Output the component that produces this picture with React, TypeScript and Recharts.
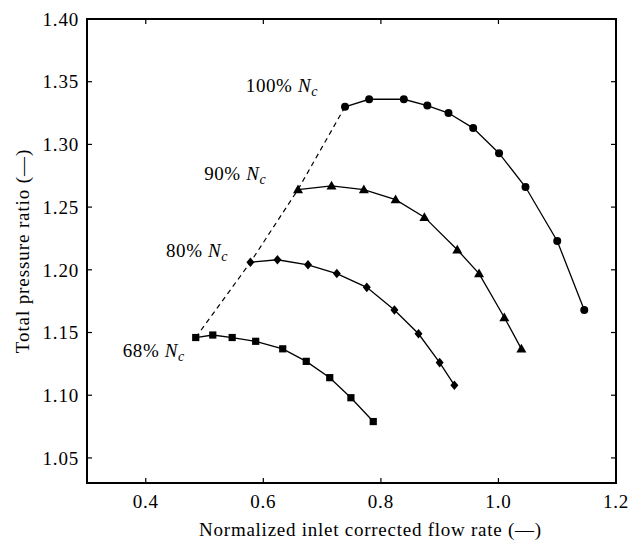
import {
  Label,
  ReferenceArea,
  ReferenceLine,
  Scatter,
  ScatterChart,
  XAxis,
  YAxis,
} from 'recharts'

// speed lines
const flow100 = [0.739, 0.78, 0.839, 0.879, 0.915, 0.957, 1.001, 1.046, 1.1, 1.146]
const pr100 = [1.33, 1.336, 1.336, 1.331, 1.325, 1.313, 1.293, 1.266, 1.223, 1.168]

const flow90 = [0.659, 0.716, 0.771, 0.825, 0.874, 0.93, 0.967, 1.01, 1.039]
const pr90 = [1.264, 1.267, 1.264, 1.256, 1.242, 1.216, 1.197, 1.162, 1.137]

const flow80 = [0.578, 0.624, 0.676, 0.725, 0.776, 0.823, 0.864, 0.9, 0.925]
const pr80 = [1.206, 1.208, 1.204, 1.197, 1.186, 1.168, 1.149, 1.126, 1.108]

const flow68 = [0.485, 0.514, 0.547, 0.587, 0.633, 0.673, 0.713, 0.749, 0.787]
const pr68 = [1.146, 1.148, 1.146, 1.143, 1.137, 1.127, 1.114, 1.098, 1.079]

const xTicks = [0.4, 0.6, 0.8, 1.0, 1.2]
const yTicks = [1.05, 1.1, 1.15, 1.2, 1.25, 1.3, 1.35, 1.4]
const xDomain = [0.3, 1.2]
const yDomain = [1.03, 1.4]

const speedLabels = ['100%', '90%', '80%', '68%']
// right edge / baseline of each speed label, in data units
const labelX = [0.693, 0.605, 0.54, 0.4665]
const labelY = [1.3416, 1.2716, 1.2102, 1.1305]

const toPoints = (xs: number[], ys: number[]) => xs.map((x, i) => ({ x, y: ys[i] }))

const line100 = toPoints(flow100, pr100)
const line90 = toPoints(flow90, pr90)
const line80 = toPoints(flow80, pr80)
const line68 = toPoints(flow68, pr68)

// surge line joins the first point of each speed line
const surge = [line68[0], line80[0], line90[0], line100[0]]

const labelData = speedLabels.map((text, i) => ({ x: labelX[i], y: labelY[i], text }))

// inward tick length (~5px) in data units
const tickLenX = 0.0085
const tickLenY = 0.004

const FONT = '"Liberation Serif", "Times New Roman", serif'

function CircleMark(p: any) {
  return <circle cx={p.cx} cy={p.cy} r={4} fill="#000" />
}

function TriangleMark(p: any) {
  const { cx, cy } = p
  const s = 5
  return (
    <polygon
      points={`${cx},${cy - s} ${cx - s},${cy + s * 0.75} ${cx + s},${cy + s * 0.75}`}
      fill="#000"
    />
  )
}

function DiamondMark(p: any) {
  const { cx, cy } = p
  return (
    <polygon
      points={`${cx},${cy - 4.8} ${cx + 4},${cy} ${cx},${cy + 4.8} ${cx - 4},${cy}`}
      fill="#000"
    />
  )
}

function SquareMark(p: any) {
  return <rect x={p.cx - 3.6} y={p.cy - 3.6} width={7.2} height={7.2} fill="#000" />
}

function NoMark() {
  return <g />
}

function SpeedLabel(p: any) {
  return (
    <text
      x={p.cx}
      y={p.cy}
      textAnchor="end"
      fontSize={19}
      letterSpacing={0.6}
      fill="#000"
      fontFamily={FONT}
    >
      {p.payload.text + ' '}
      <tspan fontStyle="italic">N</tspan>
      <tspan fontStyle="italic" fontSize={14} dy={4}>
        c
      </tspan>
    </text>
  )
}

const lineStyle = { stroke: '#000', strokeWidth: 1.3 }

export default function App() {
  return (
    <div style={{ position: 'absolute', left: 0, top: 0, fontFamily: FONT, background: '#fff' }}>
      <ScatterChart
        width={642}
        height={545}
        margin={{ top: 19, right: 26, bottom: 0, left: 27 }}
      >
        <XAxis
          type="number"
          dataKey="x"
          domain={xDomain}
          ticks={xTicks}
          tickFormatter={(v) => v.toFixed(1)}
          height={62}
          tickSize={0}
          tickMargin={12}
          axisLine={false}
          tickLine={false}
          tick={{ fill: '#000', fontSize: 19, letterSpacing: 0.8 }}
          allowDataOverflow
        >
          <Label
            value="Normalized inlet corrected flow rate (—)"
            position="insideBottom"
            offset={9}
            dx={19}
            style={{ fill: '#000', fontSize: 19, letterSpacing: 0.75 }}
          />
        </XAxis>
        <YAxis
          type="number"
          dataKey="y"
          domain={yDomain}
          ticks={yTicks}
          tickFormatter={(v) => v.toFixed(2)}
          width={60}
          tickSize={0}
          tickMargin={8}
          axisLine={false}
          tickLine={false}
          tick={{ fill: '#000', fontSize: 19, letterSpacing: 0.8 }}
          allowDataOverflow
        >
          <Label
            value="Total pressure ratio (—)"
            angle={-90}
            position="insideLeft"
            offset={-5}
            style={{ fill: '#000', fontSize: 19, letterSpacing: 0.9, textAnchor: 'middle' }}
          />
        </YAxis>

        {xTicks.map((t) => (
          <ReferenceLine
            key={'b' + t}
            segment={[
              { x: t, y: yDomain[0] },
              { x: t, y: yDomain[0] + tickLenY },
            ]}
            stroke="#000"
            strokeWidth={1.2}
          />
        ))}
        {xTicks.map((t) => (
          <ReferenceLine
            key={'t' + t}
            segment={[
              { x: t, y: yDomain[1] },
              { x: t, y: yDomain[1] - tickLenY },
            ]}
            stroke="#000"
            strokeWidth={1.2}
          />
        ))}
        {yTicks.map((t) => (
          <ReferenceLine
            key={'l' + t}
            segment={[
              { x: xDomain[0], y: t },
              { x: xDomain[0] + tickLenX, y: t },
            ]}
            stroke="#000"
            strokeWidth={1.2}
          />
        ))}
        {yTicks.map((t) => (
          <ReferenceLine
            key={'r' + t}
            segment={[
              { x: xDomain[1], y: t },
              { x: xDomain[1] - tickLenX, y: t },
            ]}
            stroke="#000"
            strokeWidth={1.2}
          />
        ))}
        <ReferenceArea
          x1={xDomain[0]}
          x2={xDomain[1]}
          y1={yDomain[0]}
          y2={yDomain[1]}
          fill="none"
          fillOpacity={0}
          stroke="#000"
          strokeWidth={2}
        />

        <Scatter
          data={surge}
          line={{ stroke: '#000', strokeWidth: 1.2, strokeDasharray: '5 4' }}
          shape={NoMark}
          isAnimationActive={false}
        />
        <Scatter data={line100} line={lineStyle} shape={CircleMark} isAnimationActive={false} />
        <Scatter data={line90} line={lineStyle} shape={TriangleMark} isAnimationActive={false} />
        <Scatter data={line80} line={lineStyle} shape={DiamondMark} isAnimationActive={false} />
        <Scatter data={line68} line={lineStyle} shape={SquareMark} isAnimationActive={false} />
        <Scatter data={labelData} shape={SpeedLabel} isAnimationActive={false} />
      </ScatterChart>
    </div>
  )
}
